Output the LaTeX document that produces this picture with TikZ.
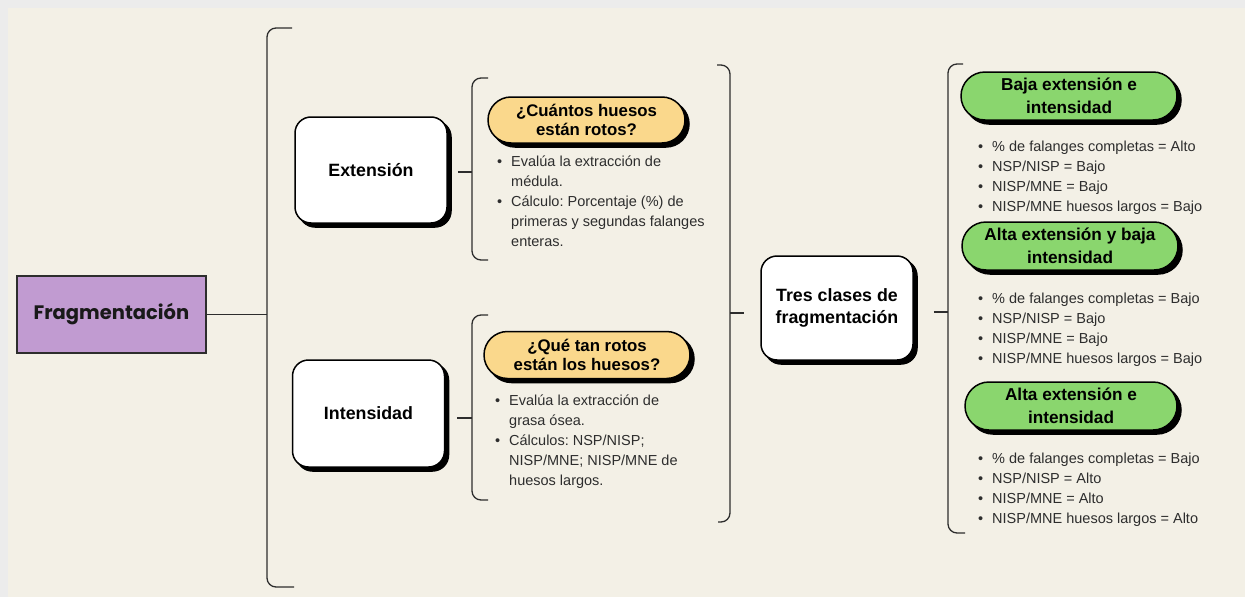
\documentclass[tikz,border=0pt]{standalone}
\usepackage{fontspec}
\setmainfont{Liberation Sans}
\newfontfamily\popfont{Poppins}
\usepackage{tikz}
\usetikzlibrary{shapes.misc}
\usetikzlibrary{shadows}

\definecolor{paper}{RGB}{243,240,230}
\definecolor{frame}{RGB}{236,236,236}
\definecolor{lila}{RGB}{193,155,209}
\definecolor{amber}{RGB}{250,216,140}
\definecolor{leaf}{RGB}{138,214,110}
\definecolor{ink}{RGB}{45,45,45}

% one bullet item, wrapped lines hang under the text
\newcommand{\bul}{\par\noindent\hangindent=14pt\hangafter=1\makebox[14pt][l]{\textbullet}}
% a list whose base is the first line
\newcommand{\itemlist}[1]{\vtop{\hsize=260pt\raggedright\frenchspacing\parskip=0pt #1\par}}

\tikzset{
  line/.style={draw=ink, line width=1.3pt},
  brack/.style={line, rounded corners=9pt},
  topic/.style={draw=ink, line width=1.2pt, fill=lila, minimum width=189pt, minimum height=77pt,
    text=black!90, font=\popfont\bfseries\fontsize{19.5}{22}\selectfont},
  hard shadow/.style={general shadow={fill=black, draw=black, line width=1.5pt, shadow xshift=4pt, shadow yshift=-4pt}},
  card/.style={draw=black, line width=1.5pt, fill=white, rounded corners=16pt, hard shadow,
    minimum width=152pt, minimum height=106pt, align=center, font=\bfseries\fontsize{17.8}{22}\selectfont},
  pill/.style={rounded rectangle, draw=black, line width=1.5pt, hard shadow, inner sep=0pt, align=center},
  askpill/.style={pill, fill=amber, minimum height=46pt, font=\bfseries\fontsize{16.8}{19}\selectfont},
  classpill/.style={pill, fill=leaf, minimum width=214pt, minimum height=48pt, font=\bfseries\fontsize{17.2}{23}\selectfont},
  notes/.style={anchor=base west, inner sep=0pt, text=ink, font=\fontsize{14.5}{20}\selectfont},
}

\begin{document}
\begin{tikzpicture}[x=1pt, y=-1pt]
  \useasboundingbox (0,0) rectangle (1245,597);
  \fill[frame] (0,0) rectangle (1245,597);
  \fill[paper] (8,8) rectangle (1245,597);

  % main topic and first level
  \node[topic] (frag) at (111.5,314.5) {Fragmentación};
  \node[card] (ext) at (371,170) {\raisebox{-4pt}{Extensión}};
  \node[card, minimum height=107pt] (inten) at (368.5,413.5) {\raisebox{-1pt}{Intensidad}};

  % questions
  \node[askpill, minimum width=197pt] (ask1) at (586.5,120) {¿Cuántos huesos\\están rotos?};
  \node[notes] (note1) at (497,166) {\itemlist{\bul Evalúa la extracción de\newline médula.
    \bul Cálculo: Porcentaje (\%) de\newline primeras y segundas falanges\newline enteras.}};

  \node[askpill, minimum width=206pt, minimum height=47pt] (ask2) at (587,355) {¿Qué tan rotos\\están los huesos?};
  \node[notes] (note2) at (495,405.5) {\itemlist{\bul Evalúa la extracción de\newline grasa ósea.
    \bul Cálculos: NSP/NISP;\newline NISP/MNE; NISP/MNE de\newline huesos largos.}};

  % classes
  \node[card, minimum height=104pt] (tres) at (837,308) {Tres clases de\\fragmentación};

  \node[classpill, minimum width=216pt] (low) at (1069,96) {Baja extensión e\\intensidad};
  \node[notes] (note3) at (978,151) {\itemlist{\bul \% de falanges completas = Alto
    \bul NSP/NISP = Bajo \bul NISP/MNE = Bajo \bul NISP/MNE huesos largos = Bajo}};

  \node[classpill, minimum width=216pt] (mixed) at (1070,246) {Alta extensión y baja\\intensidad};
  \node[notes] (note4) at (978,303) {\itemlist{\bul \% de falanges completas = Bajo
    \bul NSP/NISP = Bajo \bul NISP/MNE = Bajo \bul NISP/MNE huesos largos = Bajo}};

  \node[classpill, minimum width=212pt] (high) at (1071,406) {Alta extensión e\\intensidad};
  \node[notes] (note5) at (978,463.5) {\itemlist{\bul \% de falanges completas = Bajo
    \bul NSP/NISP = Alto \bul NISP/MNE = Alto \bul NISP/MNE huesos largos = Alto}};

  % brackets
  \draw[brack] (292,28) -- (267,28) -- (267,587) -- (294,587);
  \draw[brack] (488,78) -- (472,78) -- (472,260) -- (488,260);
  \draw[brack] (488,315) -- (472,315) -- (472,500) -- (488,500);
  \draw[brack] (717,65) -- (730,65) -- (730,522) -- (718,522);
  \draw[brack] (963,64) -- (948,64) -- (948,533) -- (965,533);

  \coordinate (b1) at (267,314.5);
  \coordinate (b2) at (472,172);
  \coordinate (b3) at (472,418);
  \coordinate (b4) at (730,313);
  \coordinate (b5) at (948,312);

  % connectors
  \draw[line] (frag.east) -- (b1);
  \draw[line, shorten <=10pt] (b2 -| ext.east) -- (b2);
  \draw[line, shorten <=12pt] (b3 -| inten.east) -- (b3);
  \draw[line, shorten >=16pt] (b4) -- (b4 -| tres.west);
  \draw[line, shorten <=20pt] (b5 -| tres.east) -- (b5);
\end{tikzpicture}
\end{document}
